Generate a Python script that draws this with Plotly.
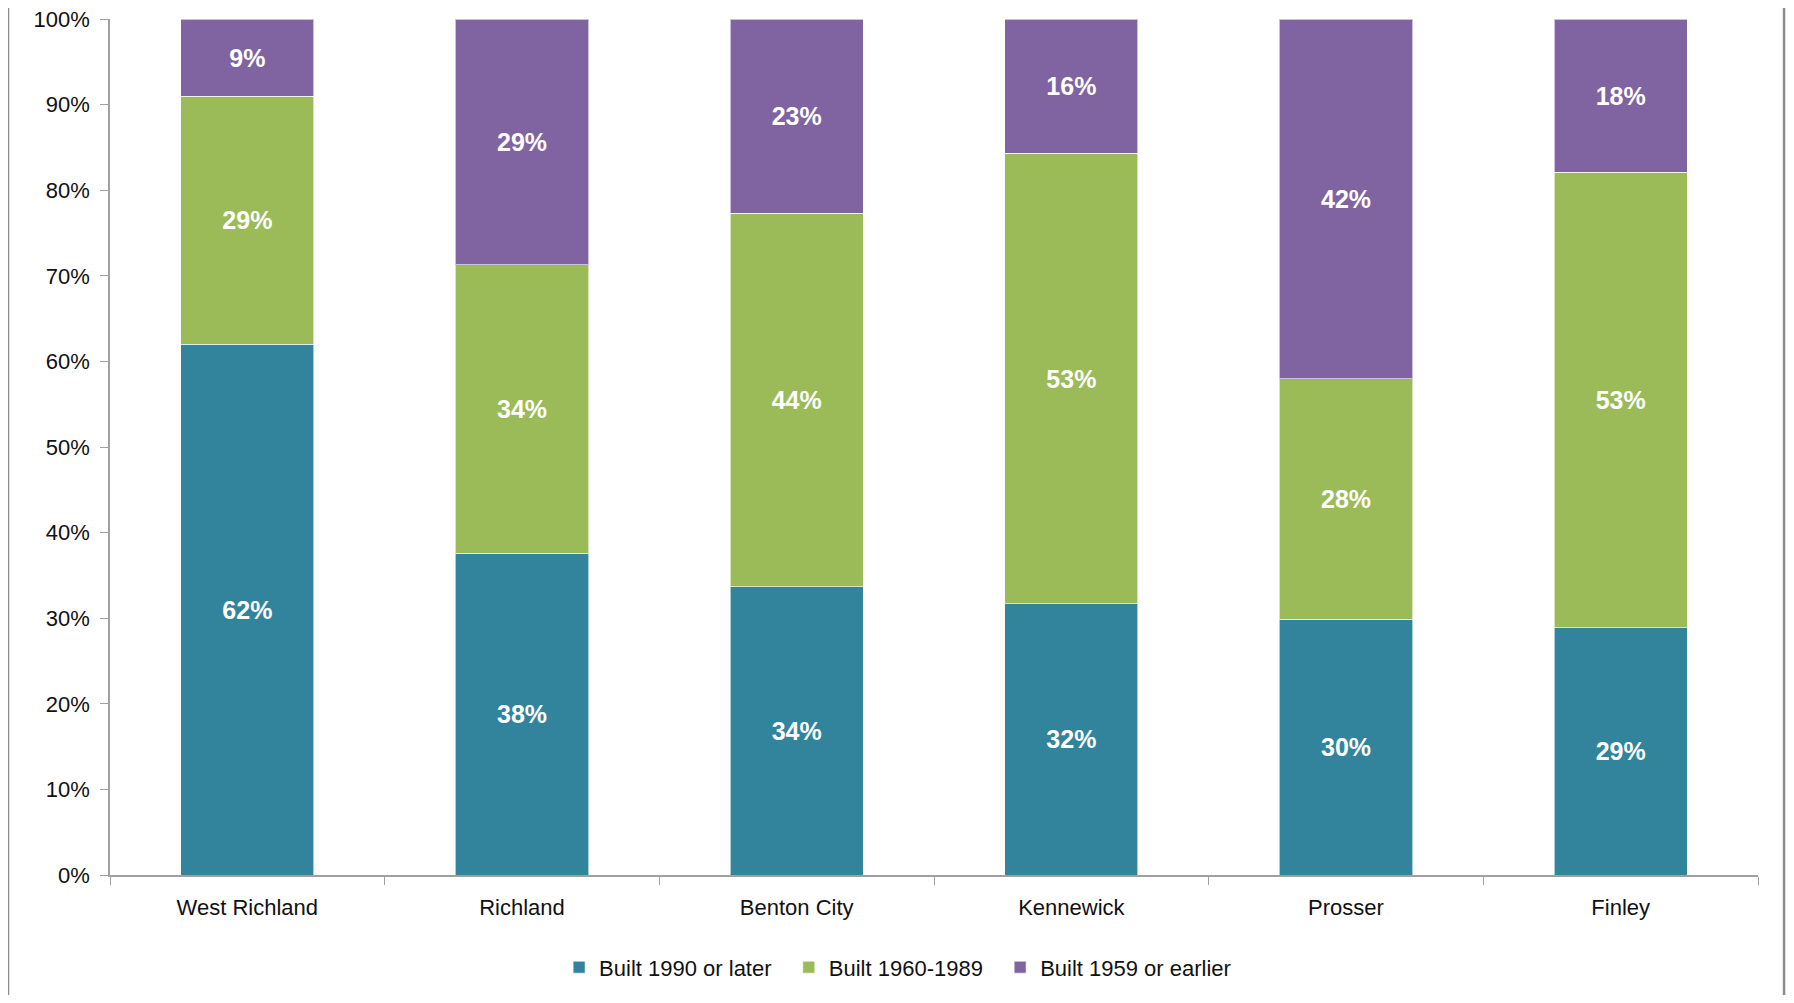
import plotly.graph_objects as go

categories = ["West Richland", "Richland", "Benton City", "Kennewick", "Prosser", "Finley"]
built_1990_later = [62.0, 37.6, 33.7, 31.7, 29.9, 28.9]
built_1960_1989 = [29.0, 33.7, 43.6, 52.6, 28.1, 53.2]
built_1959_earlier = [9.0, 28.7, 22.7, 15.7, 42.0, 17.9]
series_names = ["Built 1990 or later", "Built 1960-1989", "Built 1959 or earlier"]
colors = ["#31849B", "#9BBB59", "#8064A2"]
y_ticks = list(range(0, 101, 10))

label_font = dict(family="Liberation Sans Narrow, Arial Narrow, Liberation Sans, Arial", size=25, color="white")

fig = go.Figure()
for name, vals, col in zip(series_names, [built_1990_later, built_1960_1989, built_1959_earlier], colors):
    fig.add_trace(go.Bar(
        x=categories, y=vals, name=name + "\u00a0\u00a0",
        marker=dict(color=col, line=dict(color="rgba(255,255,255,0.6)", width=1)),
        texttemplate="<b>%{y:.0f}%</b>", textposition="inside", insidetextanchor="middle",
        textfont=label_font, textangle=0, cliponaxis=False, constraintext="none",
    ))

fig.update_layout(
    barmode="stack", bargap=0.515,
    width=1778, height=987,
    margin=dict(l=102, r=28, t=11, b=120, autoexpand=False),
    paper_bgcolor="white", plot_bgcolor="white",
    font=dict(family="Liberation Sans, Arial", size=22, color="#111"),
    legend=dict(orientation="h", xref="container", yref="container", x=0.504, xanchor="center",
                y=0.028, yanchor="middle", font=dict(size=22), itemwidth=30, traceorder="normal"),
    showlegend=True,
)
fig.update_xaxes(
    showline=True, linecolor="#A0A0A0", linewidth=1.5,
    ticks="outside", tickson="boundaries", ticklen=8, tickcolor="#A0A0A0",
    tickfont=dict(size=22), showgrid=False, automargin=False, ticklabelstandoff=12,
)
fig.update_yaxes(
    range=[0, 100.0001], tickvals=y_ticks, ticktext=[f"{v}%" for v in y_ticks],
    showline=True, linecolor="#A0A0A0", linewidth=1.5,
    ticks="outside", ticklen=8, tickcolor="#A0A0A0", ticklabeloverflow="allow",
    tickfont=dict(size=22), showgrid=False, zeroline=False, automargin=False, ticklabelstandoff=6,
)
# outer frame side lines
for xp in [-0.0619, 1.0158]:
    fig.add_shape(type="line", xref="paper", yref="paper", x0=xp, x1=xp, y0=-0.2, y1=1.05,
                  line=dict(color="#8C8C8C", width=2.5))

fig.write_html("out.html")
